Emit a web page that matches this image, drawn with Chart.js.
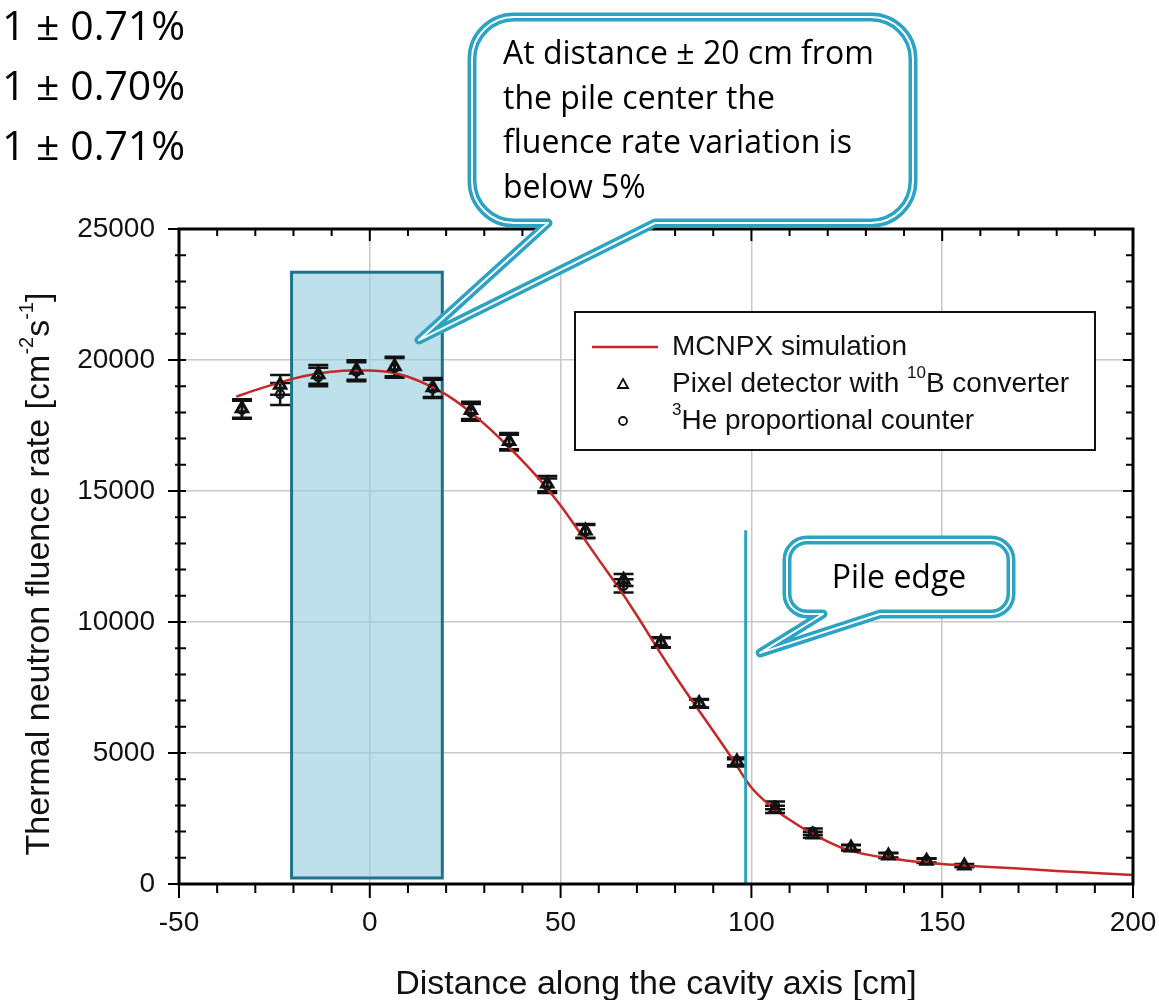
<!DOCTYPE html>
<html>
<head>
<meta charset="utf-8">
<script src="https://cdn.jsdelivr.net/npm/chart.js@4.4.0/dist/chart.umd.min.js"></script>
<style>
  html, body { margin: 0; padding: 0; background: #fff; }
  #wrap { position: relative; width: 1159px; height: 1000px; overflow: hidden; }
  #chart { position: absolute; left: 0; top: 0; }
  .txt { position: absolute; font-family: 'Open Sans', sans-serif; color: #000; white-space: nowrap; }
  #notes { left: 2px; top: -6px; font-size: 41px; line-height: 60px; }
  #callout1 { left: 503px; top: 30px; font-size: 32px; line-height: 44.5px; }
  #callout2 { left: 787px; top: 556px; width: 224px; text-align: center; font-size: 32px; line-height: 40px; }
</style>
</head>
<body>
<div id="wrap">
  <canvas id="chart" width="1159" height="1000"></canvas>
  <div class="txt" id="notes">1 ± 0.71%<br>1 ± 0.70%<br>1 ± 0.71%</div>
  <div class="txt" id="callout1">At distance ± 20 cm from<br>the pile center the<br>fluence rate variation is<br>below 5%</div>
  <div class="txt" id="callout2">Pile edge</div>
</div>
<script>
// MCNPX simulation curve
const simX = [-35, -30, -25, -20, -15, -10, -5, 0, 5, 10, 15, 20, 25, 30, 35, 40, 45, 50, 55, 60, 65, 70,
              75, 80, 85, 90, 95, 100, 105, 110, 115, 120, 125, 130, 135, 140, 145, 150, 160, 170, 180, 190, 200];
const simY = [18600, 18850, 19080, 19290, 19450, 19550, 19600, 19600, 19540, 19360, 19060, 18680, 18170, 17560,
              16880, 16150, 15350, 14450, 13420, 12380, 11350, 10250, 9080, 7950, 6880, 5840, 4780, 3680, 2980,
              2450, 2000, 1620, 1310, 1130, 1010, 910, 830, 760, 670, 590, 500, 420, 340];

// Pixel detector with 10B converter
const pixX = [-33.5, -23.5, -13.5, -3.5, 6.5, 16.5, 26.5, 36.5, 46.5, 56.5, 66.5, 76.3, 86.3, 96.2, 106.2,
              116.1, 126.1, 135.9, 145.9, 155.8];
const pixY = [18150, 19050, 19450, 19620, 19750, 18950, 18080, 16900, 15280, 13480, 11600, 9230, 6900, 4680,
              2850, 1880, 1380, 1080, 880, 700];
const pixErr = [350, 380, 360, 370, 370, 360, 330, 310, 290, 260, 230, 190, 160, 150, 140, 110, 100, 90, 80, 60];

// 3He proportional counter
const heX = pixX.slice(0, 19);
const heY = [18100, 18700, 19350, 19550, 19700, 18900, 18000, 16850, 15200, 13450, 11380, 9200, 6880, 4620,
             3000, 2000, 1400, 1100, 900];
const heErr = [340, 420, 350, 360, 380, 350, 320, 300, 280, 250, 250, 180, 150, 140, 150, 120, 100, 90, 80];

// annotations (data coordinates)
const zoneX = [-20.5, 19];
const zoneY = [230, 23350];
const edgeX = 98.5;
const edgeTop = 13500;
const tip1 = [12.9, 20760];
const tip2 = [102.3, 8820];

const xRange = [-50, 200], xStep = 50, xMinor = 10;
const yRange = [0, 25000], yStep = 5000, yMinor = 1000;

const legendItems = [
  { kind: 'line', parts: [['MCNPX simulation', 0]] },
  { kind: 'triangle', parts: [['Pixel detector with ', 0], ['10', 1], ['B converter', 0]] },
  { kind: 'circle', parts: [['3', 1], ['He proportional counter', 0]] }
];
const yTitle = [['Thermal neutron fluence rate [cm', 0], ['-2', 1], ['s', 0], ['-1', 1], [']', 0]];
const xTitle = 'Distance along the cavity axis [cm]';

const RED = '#c62828';
const BLUE = '#2ca3c2';
const SANS = '"Liberation Sans", Arial, sans-serif';

function pts(xs, ys) { return xs.map((v, i) => ({ x: v, y: ys[i] })); }

function drawParts(ctx, parts, x, y, size) {
    let cx = x;
    parts.forEach(([t, sup]) => {
        ctx.font = (sup ? Math.round(size * 0.6) : size) + 'px ' + SANS;
        ctx.fillText(t, cx, sup ? y - size * 0.38 : y);
        cx += ctx.measureText(t).width;
    });
    return cx - x;
}
function partsWidth(ctx, parts, size) {
    let w = 0;
    parts.forEach(([t, sup]) => {
        ctx.font = (sup ? Math.round(size * 0.6) : size) + 'px ' + SANS;
        w += ctx.measureText(t).width;
    });
    return w;
}

function bubble(ctx, x0, y0, x1, y1, r, ta, tb, tip) {
    ctx.beginPath();
    ctx.moveTo(x0 + r, y0);
    ctx.lineTo(x1 - r, y0);
    ctx.arcTo(x1, y0, x1, y0 + r, r);
    ctx.lineTo(x1, y1 - r);
    ctx.arcTo(x1, y1, x1 - r, y1, r);
    ctx.lineTo(tb, y1);
    ctx.lineTo(tip[0], tip[1]);
    ctx.lineTo(ta, y1);
    ctx.lineTo(x0 + r, y1);
    ctx.arcTo(x0, y1, x0, y1 - r, r);
    ctx.lineTo(x0, y0 + r);
    ctx.arcTo(x0, y0, x0 + r, y0, r);
    ctx.closePath();
    ctx.fillStyle = '#fff';
    ctx.fill();
    ctx.lineJoin = 'round';
    ctx.strokeStyle = BLUE;
    ctx.lineWidth = 9;
    ctx.stroke();
    ctx.strokeStyle = '#fff';
    ctx.lineWidth = 2;
    ctx.stroke();
}

function errorBars(ctx, x, y, xs, ys, es) {
    xs.forEach((v, i) => {
        const px = x.getPixelForValue(v);
        const t = y.getPixelForValue(ys[i] + es[i]);
        const b = y.getPixelForValue(ys[i] - es[i]);
        ctx.beginPath();
        ctx.moveTo(px, t); ctx.lineTo(px, b);
        ctx.moveTo(px - 10, t); ctx.lineTo(px + 10, t);
        ctx.moveTo(px - 10, b); ctx.lineTo(px + 10, b);
        ctx.stroke();
    });
}

const decor = {
    id: 'decor',
    beforeDatasetsDraw(chart) {
        const { ctx, scales: { x, y } } = chart;
        const l = x.getPixelForValue(zoneX[0]), r = x.getPixelForValue(zoneX[1]);
        const t = y.getPixelForValue(zoneY[1]), b = y.getPixelForValue(zoneY[0]);
        ctx.save();
        ctx.fillStyle = 'rgba(150,205,222,0.62)';
        ctx.fillRect(l, t, r - l, b - t);
        ctx.strokeStyle = '#1f7389';
        ctx.lineWidth = 3;
        ctx.strokeRect(l, t, r - l, b - t);
        ctx.strokeStyle = '#111';
        ctx.lineWidth = 2.5;
        errorBars(ctx, x, y, pixX, pixY, pixErr);
        errorBars(ctx, x, y, heX, heY, heErr);
        ctx.restore();
    },
    afterDatasetsDraw(chart) {
        const { ctx, chartArea: a, scales: { x, y } } = chart;
        ctx.save();
        // pile edge
        const ex = x.getPixelForValue(edgeX);
        ctx.strokeStyle = BLUE;
        ctx.lineWidth = 3;
        ctx.beginPath();
        ctx.moveTo(ex, y.getPixelForValue(edgeTop));
        ctx.lineTo(ex, a.bottom);
        ctx.stroke();

        // frame + ticks
        ctx.strokeStyle = '#000';
        ctx.lineWidth = 3;
        ctx.strokeRect(a.left, a.top, a.right - a.left, a.bottom - a.top);
        ctx.lineWidth = 2;
        ctx.beginPath();
        for (let v = xRange[0]; v <= xRange[1]; v += xMinor) {
            const px = x.getPixelForValue(v), major = v % xStep === 0;
            ctx.moveTo(px, a.bottom); ctx.lineTo(px, a.bottom + (major ? 14 : 9));
            ctx.moveTo(px, a.top); ctx.lineTo(px, a.top + (major ? 12 : 7));
        }
        for (let v = yRange[0]; v <= yRange[1]; v += yMinor) {
            const py = y.getPixelForValue(v), major = v % yStep === 0;
            ctx.moveTo(a.left - (major ? 11 : 4), py); ctx.lineTo(a.left + 7, py);
            ctx.moveTo(a.right - (major ? 10 : 7), py); ctx.lineTo(a.right, py);
        }
        ctx.stroke();

        // legend
        const lx = 575, ly = 312, lw = 520, lh = 138;
        ctx.fillStyle = '#fff';
        ctx.fillRect(lx, ly, lw, lh);
        ctx.strokeStyle = '#111';
        ctx.lineWidth = 2;
        ctx.strokeRect(lx, ly, lw, lh);
        ctx.textBaseline = 'middle';
        ctx.fillStyle = '#111';
        legendItems.forEach((it, i) => {
            const cy = ly + 35 + i * 37;
            ctx.strokeStyle = it.kind === 'line' ? RED : '#111';
            ctx.lineWidth = it.kind === 'line' ? 2.5 : 1.8;
            ctx.beginPath();
            if (it.kind === 'line') { ctx.moveTo(lx + 17, cy); ctx.lineTo(lx + 83, cy); }
            else if (it.kind === 'triangle') { ctx.moveTo(lx + 48, cy - 5); ctx.lineTo(lx + 53, cy + 4); ctx.lineTo(lx + 43, cy + 4); ctx.closePath(); }
            else { ctx.arc(lx + 48, cy, 4, 0, Math.PI * 2); }
            ctx.stroke();
            drawParts(ctx, it.parts, lx + 97, cy, 28);
        });

        // axis titles
        ctx.fillStyle = '#111';
        ctx.textAlign = 'center';
        ctx.font = '34px ' + SANS;
        ctx.fillText(xTitle, (a.left + a.right) / 2, 985);
        ctx.textAlign = 'left';
        ctx.translate(40, 574);
        ctx.rotate(-Math.PI / 2);
        const w = partsWidth(ctx, yTitle, 34);
        drawParts(ctx, yTitle, -w / 2, 0, 34);
        ctx.restore();
    },
    afterDraw(chart) {
        const { ctx, scales: { x, y } } = chart;
        ctx.save();
        bubble(ctx, 472, 17, 913, 223, 42, 548, 655, [x.getPixelForValue(tip1[0]), y.getPixelForValue(tip1[1])]);
        bubble(ctx, 787, 540, 1011, 614, 20, 823, 880, [x.getPixelForValue(tip2[0]), y.getPixelForValue(tip2[1])]);
        ctx.restore();
    }
};

new Chart(document.getElementById('chart'), {
    type: 'scatter',
    data: {
        datasets: [
            { label: 'Pixel detector with 10B converter', data: pts(pixX, pixY), order: 1,
              pointStyle: 'triangle', pointRadius: 6.5, borderColor: '#111', borderWidth: 3, backgroundColor: 'rgba(0,0,0,0)' },
            { label: '3He proportional counter', data: pts(heX, heY), order: 2,
              pointStyle: 'circle', pointRadius: 4, borderColor: '#111', borderWidth: 2.2, backgroundColor: 'rgba(0,0,0,0)' },
            { type: 'line', label: 'MCNPX simulation', data: pts(simX, simY), order: 3,
              borderColor: RED, borderWidth: 2.5, pointRadius: 0, showLine: true, fill: false, cubicInterpolationMode: 'monotone' }
        ]
    },
    options: {
        responsive: false,
        animation: false,
        devicePixelRatio: 1,
        layout: { padding: { top: 229, right: 26, left: 0, bottom: 0 } },
        plugins: { legend: { display: false }, tooltip: { enabled: false } },
        scales: {
            x: {
                type: 'linear', min: xRange[0], max: xRange[1],
                afterFit: s => { s.height = 116; s.paddingRight = 0; s.paddingLeft = 0; },
                ticks: { stepSize: xStep, padding: 22, color: '#111', font: { family: SANS, size: 28 },
                         callback: v => String(v) },
                grid: { color: '#c8c8c8', lineWidth: 1.5, drawTicks: false },
                border: { display: false }
            },
            y: {
                min: yRange[0], max: yRange[1],
                afterFit: s => { s.width = 179; },
                ticks: { stepSize: yStep, padding: 24, color: '#111', font: { family: SANS, size: 28 },
                         callback: v => String(v) },
                grid: { color: '#c8c8c8', lineWidth: 1.5, drawTicks: false },
                border: { display: false }
            }
        }
    },
    plugins: [decor]
});
</script>
</body>
</html>
